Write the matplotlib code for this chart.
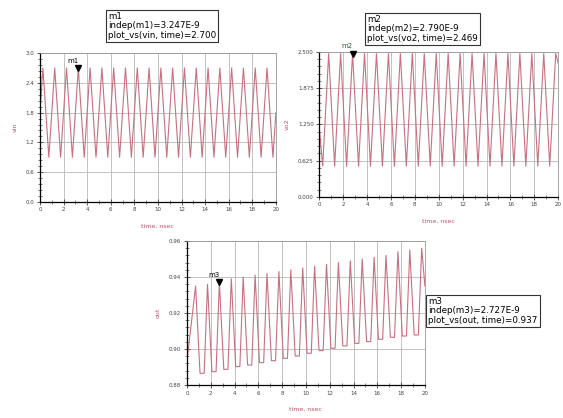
import matplotlib.pyplot as plt
from matplotlib.ticker import MultipleLocator, AutoMinorLocator

# ---- data (vertex points of each waveform, ns / V) ----
vin_peak_t = [0.25, 1.25, 2.25, 3.25, 4.25, 5.25, 6.25, 7.25, 8.25, 9.25,
              10.25, 11.25, 12.25, 13.25, 14.25, 15.25, 16.25, 17.25, 18.25, 19.25]
vin_peak_v = [2.7, 2.7, 2.7, 2.7, 2.7, 2.7, 2.7, 2.7, 2.7, 2.7,
              2.7, 2.7, 2.7, 2.7, 2.7, 2.7, 2.7, 2.7, 2.7, 2.7]
vin_low_t = [0.75, 1.75, 2.75, 3.75, 4.75, 5.75, 6.75, 7.75, 8.75, 9.75,
             10.75, 11.75, 12.75, 13.75, 14.75, 15.75, 16.75, 17.75, 18.75, 19.75]
vin_low_v = [0.9, 0.9, 0.9, 0.9, 0.9, 0.9, 0.9, 0.9, 0.9, 0.9,
             0.9, 0.9, 0.9, 0.9, 0.9, 0.9, 0.9, 0.9, 0.9, 0.9]
vin_start, vin_end = 1.8, 1.8

vo2_peak_t = [0.79, 1.79, 2.79, 3.79, 4.79, 5.79, 6.79, 7.79, 8.79, 9.79,
              10.79, 11.79, 12.79, 13.79, 14.79, 15.79, 16.79, 17.79, 18.79, 19.79]
vo2_peak_v = [2.47, 2.47, 2.469, 2.47, 2.47, 2.47, 2.47, 2.47, 2.47, 2.47,
              2.47, 2.47, 2.47, 2.47, 2.47, 2.47, 2.47, 2.47, 2.47, 2.47]
vo2_low_t = [0.29, 1.29, 2.29, 3.29, 4.29, 5.29, 6.29, 7.29, 8.29, 9.29,
             10.29, 11.29, 12.29, 13.29, 14.29, 15.29, 16.29, 17.29, 18.29, 19.29]
vo2_low_v = [0.53, 0.53, 0.53, 0.53, 0.53, 0.53, 0.53, 0.53, 0.53, 0.53,
             0.53, 0.53, 0.53, 0.53, 0.53, 0.53, 0.53, 0.53, 0.53, 0.53]
vo2_start, vo2_end = 1.2, 2.3

out_peak_t = [0.73, 1.73, 2.727, 3.73, 4.73, 5.73, 6.73, 7.73, 8.73, 9.73,
              10.73, 11.73, 12.73, 13.73, 14.73, 15.73, 16.73, 17.73, 18.73, 19.73]
out_peak_v = [0.935, 0.936, 0.937, 0.939, 0.940, 0.941, 0.942, 0.943, 0.944, 0.945,
              0.946, 0.947, 0.948, 0.949, 0.950, 0.951, 0.952, 0.954, 0.955, 0.956]
out_low_v = [0.8865, 0.8874, 0.8887, 0.8902, 0.8911, 0.8924, 0.8935, 0.8948, 0.8961, 0.8976,
             0.8991, 0.9004, 0.9017, 0.9031, 0.9041, 0.9054, 0.9065, 0.9072, 0.9078]
out_start, out_end = 0.893, 0.935

markers = [("m1", 3.247, 2.700, "vin"), ("m2", 2.790, 2.469, "vo2"), ("m3", 2.727, 0.937, "out")]

red = "#c0506a"
wave = "#c8707e"


def zigzag(t0, v0, ta, va, tb, vb, v_end):
    pts = sorted([(0.0, v0)] + list(zip(ta, va)) + list(zip(tb, vb)) + [(20.0, v_end)])
    return [p[0] for p in pts], [p[1] for p in pts]


def style(ax, ylim, ystep, yfmt, ylabel):
    ax.set_xlim(0, 20)
    ax.set_ylim(*ylim)
    ax.xaxis.set_major_locator(MultipleLocator(2))
    ax.xaxis.set_minor_locator(MultipleLocator(1))
    ax.yaxis.set_major_locator(MultipleLocator(ystep))
    ax.yaxis.set_minor_locator(AutoMinorLocator(5))
    ax.yaxis.set_major_formatter(yfmt)
    ax.grid(True, which="major", color="#b8b8b8", lw=0.6)
    ax.tick_params(which="both", direction="inout", labelsize=4, colors="#444444", pad=2)
    ax.tick_params(which="major", length=4, width=0.6)
    ax.tick_params(which="minor", length=2.5, width=0.5)
    for s in ["top", "right"]:
        ax.spines[s].set_color("#999999")
        ax.spines[s].set_linewidth(0.6)
    for s in ["left", "bottom"]:
        ax.spines[s].set_linewidth(0.9)
    ax.set_xlabel("time, nsec", color=red, fontsize=4.5, labelpad=8)
    ax.set_ylabel(ylabel, color=red, fontsize=4.5, labelpad=6)


fig = plt.figure(figsize=(5.63, 4.18), dpi=100)
ax1 = fig.add_axes([0.071, 0.517, 0.419, 0.356])
ax2 = fig.add_axes([0.567, 0.529, 0.4245, 0.347])
ax3 = fig.add_axes([0.332, 0.079, 0.4227, 0.3445])

t, v = zigzag(0, vin_start, vin_peak_t, vin_peak_v, vin_low_t, vin_low_v, vin_end)
ax1.plot(t, v, color=wave, lw=0.8)
style(ax1, (0.0, 3.0), 0.6, "{x:.1f}", "vin")

t, v = zigzag(0, vo2_start, vo2_peak_t, vo2_peak_v, vo2_low_t, vo2_low_v, vo2_end)
ax2.plot(t, v, color=wave, lw=0.8)
style(ax2, (0.0, 2.5), 0.625, "{x:.3f}", "vo2")

# out: sharp peak, then flat bottom before the next rise
out_t = [0.0]
out_v = [out_start]
for i, (tp, vp) in enumerate(zip(out_peak_t, out_peak_v)):
    out_t.append(tp)
    out_v.append(vp)
    if i < len(out_low_v):
        out_t += [tp + 0.37, tp + 0.72]
        out_v += [out_low_v[i], out_low_v[i]]
out_t.append(20.0)
out_v.append(out_end)
ax3.plot(out_t, out_v, color=wave, lw=0.8)
style(ax3, (0.88, 0.96), 0.02, "{x:.2f}", "out")

# markers
for ax, (name, mt, mv, _), col in zip([ax1, ax2, ax3], markers, ["black", "#2a6040", "black"]):
    ax.plot([mt], [mv], marker="v", color="black", ms=4, clip_on=False, zorder=5)
    ax.annotate(name, (mt, mv), xytext=(-4, 3), textcoords="offset points",
                fontsize=5, color=col, ha="center", va="bottom")

box_pos = [(108, 12), (367, 15), (428, 297)]
for (name, mt, mv, sig), (px, py) in zip(markers, box_pos):
    txt = f"{name}\nindep({name})={mt:.3f}E-9\nplot_vs({sig}, time)={mv:.3f}"
    fig.text(px / 563, 1 - py / 418, txt, fontsize=6.3, va="top", ha="left",
             linespacing=1.05,
             bbox=dict(boxstyle="square,pad=0.25", fc="white", ec="#333333", lw=0.8))

fig.savefig("out.png", dpi=100)
